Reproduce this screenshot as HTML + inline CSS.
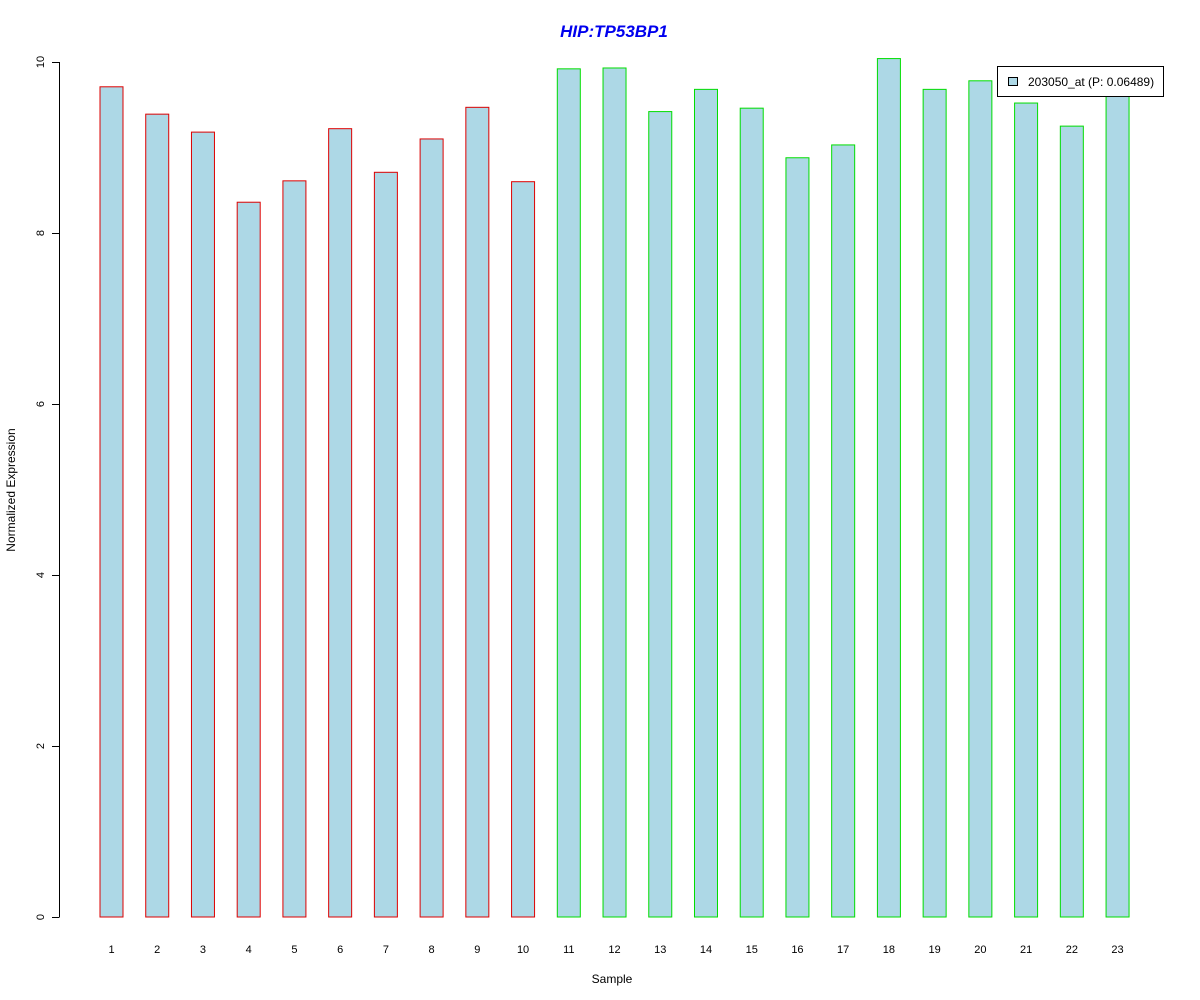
<!DOCTYPE html>
<html><head><meta charset="utf-8"><style>
html,body{margin:0;padding:0;background:#fff;}
svg{display:block;font-family:"Liberation Sans",Arial,sans-serif;}
</style></head><body>
<svg id="chart" width="1200" height="1000" xmlns="http://www.w3.org/2000/svg">
<text x="614" y="37" text-anchor="middle" font-size="17" font-weight="bold" font-style="italic" fill="#0000ee">HIP:TP53BP1</text>
<text x="612" y="983" text-anchor="middle" font-size="12">Sample</text>
<text transform="translate(15,490) rotate(-90)" text-anchor="middle" font-size="12">Normalized Expression</text>
<g id="yaxis"></g>
<g id="bars"></g>
<g id="xlabels"></g>
<g>
<rect x="997.5" y="66.5" width="166" height="30" fill="#fff" stroke="#000"/>
<rect x="1008.5" y="77.5" width="9" height="8" fill="#add8e6" stroke="#000"/>
<text x="1028" y="86" font-size="12">203050_at (P: 0.06489)</text>
</g>
</svg>
<script>
const categories = ["1","2","3","4","5","6","7","8","9","10","11","12","13","14","15","16","17","18","19","20","21","22","23"];
const values = [9.71,9.39,9.18,8.36,8.61,9.22,8.71,9.10,9.47,8.60,9.92,9.93,9.42,9.68,9.46,8.88,9.03,10.04,9.68,9.78,9.52,9.25,9.65];
const groups = ["red","red","red","red","red","red","red","red","red","red","green","green","green","green","green","green","green","green","green","green","green","green","green"];
const yTicks = [0,2,4,6,8,10];
const NS="http://www.w3.org/2000/svg";
function y(v){return 917-(v/10)*855;}
function x(i){return 111.5+i*45.73;}
const barW=23;
const groupColor={red:"#dd0000",green:"#00dd00"};
const bars=document.getElementById("bars");
values.forEach((v,i)=>{
  const r=document.createElementNS(NS,"rect");
  
  
  r.setAttribute("x",x(i)-barW/2);
  r.setAttribute("y",y(v));
  r.setAttribute("width",barW);
  r.setAttribute("height",y(0)-y(v));
  r.setAttribute("fill","#add8e6");
  r.setAttribute("stroke",groupColor[groups[i]]);
  bars.appendChild(r);
});
const xl=document.getElementById("xlabels");
categories.forEach((c,i)=>{
  const t=document.createElementNS(NS,"text");
  
  
  t.setAttribute("x",x(i));t.setAttribute("y",953);
  t.setAttribute("text-anchor","middle");t.setAttribute("font-size","11");
  t.textContent=c;xl.appendChild(t);
});
const ya=document.getElementById("yaxis");
const ln=document.createElementNS(NS,"line");


ln.setAttribute("x1",59.5);ln.setAttribute("x2",59.5);ln.setAttribute("y1",y(0));ln.setAttribute("y2",y(10));
ln.setAttribute("stroke","#000");ya.appendChild(ln);
yTicks.forEach(v=>{
  const tk=document.createElementNS(NS,"line");
  
  
  tk.setAttribute("x1",52);tk.setAttribute("x2",59.5);
  tk.setAttribute("y1",Math.round(y(v))+0.5);tk.setAttribute("y2",Math.round(y(v))+0.5);
  tk.setAttribute("stroke","#000");ya.appendChild(tk);
  const t=document.createElementNS(NS,"text");
  
  
  t.setAttribute("transform","translate(44,"+y(v)+") rotate(-90)");
  t.setAttribute("text-anchor","middle");t.setAttribute("font-size","11");
  t.textContent=v;ya.appendChild(t);
});
</script>
</body></html>
